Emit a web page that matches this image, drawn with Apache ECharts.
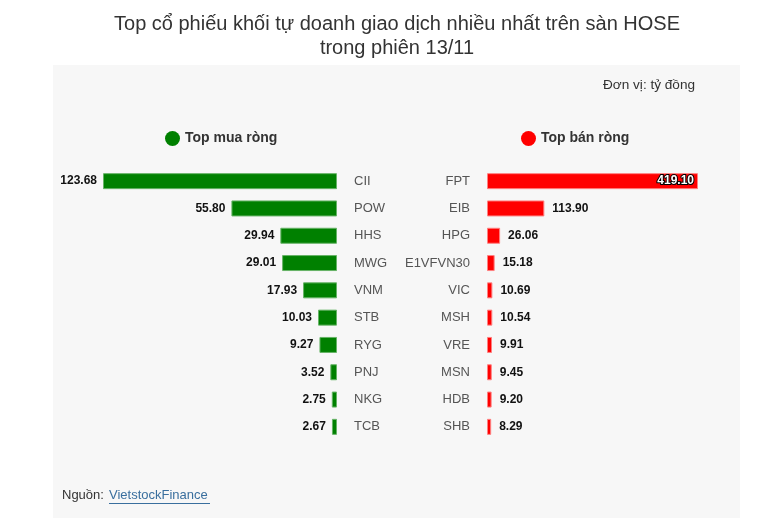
<!DOCTYPE html>
<html><head><meta charset="utf-8">
<script src="https://cdn.jsdelivr.net/npm/echarts@6/dist/echarts.min.js"></script>
<style>html,body{margin:0;padding:0;background:#fff}#c{width:780px;height:518px}</style>
</head><body><div id="c"></div>
<script>
const buyNames = ['CII','POW','HHS','MWG','VNM','STB','RYG','PNJ','NKG','TCB'];
const buyValues = [123.68,55.80,29.94,29.01,17.93,10.03,9.27,3.52,2.75,2.67];
const sellNames = ['FPT','EIB','HPG','E1VFVN30','VIC','MSH','VRE','MSN','HDB','SHB'];
const sellValues = [419.10,113.90,26.06,15.18,10.69,10.54,9.91,9.45,9.20,8.29];
const titleText = 'Top cổ phiếu khối tự doanh giao dịch nhiều nhất trên sàn HOSE\ntrong phiên 13/11';

const FONT = 'Liberation Sans, Arial, sans-serif';
const chart = echarts.init(document.getElementById('c'));
const valLabel = {show:true, fontFamily:FONT, fontSize:12, fontWeight:'bold', color:'#111', formatter:p=>p.value.toFixed(2)};
const legendText = {fontFamily:FONT, fontSize:14, fontWeight:'bold', color:'#333'};
chart.setOption({
  animation:false,
  textStyle:{fontFamily:FONT},
  graphic:[
    {type:'rect', z:-10, shape:{x:53,y:65,width:687,height:453}, style:{fill:'#f7f7f7'}},
    {type:'text', x:397, y:12, style:{text:titleText, font:'20px '+FONT, fill:'#333', align:'center', lineHeight:24}},
    {type:'text', left:603, top:78, style:{text:'Đơn vị: tỷ đồng', font:'13.6px '+FONT, fill:'#333'}},
    {type:'text', left:62, top:489, style:{text:'Nguồn: ', font:'13px '+FONT, fill:'#333'}},
    {type:'text', left:109, top:489, style:{text:'VietstockFinance', font:'13px '+FONT, fill:'#3a6f9e'}},
    {type:'line', shape:{x1:109,y1:503.5,x2:210,y2:503.5}, style:{stroke:'#3a6f9e', lineWidth:1}}
  ],
  legend:[
    {data:['Top mua ròng'], left:160, top:126, icon:'circle', itemWidth:15, itemHeight:15, itemGap:8, itemStyle:{borderWidth:0}, textStyle:legendText},
    {data:['Top bán ròng'], left:516, top:126, icon:'circle', itemWidth:15, itemHeight:15, itemGap:9, itemStyle:{borderWidth:0}, textStyle:legendText}
  ],
  grid:[
    {left:103, width:234, top:167.5, height:273},
    {left:487, width:211, top:167.5, height:273}
  ],
  xAxis:[
    {gridIndex:0, type:'value', inverse:true, min:0, max:'dataMax', show:false},
    {gridIndex:1, type:'value', min:0, max:'dataMax', show:false}
  ],
  yAxis:[
    {gridIndex:0, type:'category', data:buyNames, inverse:true, position:'right', axisLine:{show:false}, axisTick:{show:false},
      axisLabel:{margin:17, align:'left', fontFamily:FONT, fontSize:13, color:'#555'}},
    {gridIndex:1, type:'category', data:sellNames, inverse:true, position:'left', axisLine:{show:false}, axisTick:{show:false},
      axisLabel:{margin:17, align:'right', fontFamily:FONT, fontSize:13, color:'#555'}}
  ],
  series:[
    {name:'Top mua ròng', type:'bar', xAxisIndex:0, yAxisIndex:0, data:buyValues, barWidth:16,
      itemStyle:{color:'#008000', borderColor:'#66b366', borderWidth:1},
      label:Object.assign({}, valLabel, {position:'left', distance:6})},
    {name:'Top bán ròng', type:'bar', xAxisIndex:1, yAxisIndex:1, barWidth:16,
      data:sellValues.map((v,i)=> i===0 ? {value:v, label:{position:'insideRight', distance:4, color:'#fff', textBorderColor:'#000', textBorderWidth:2}} : v),
      itemStyle:{color:'#ff0000', borderColor:'#ff8080', borderWidth:1},
      label:Object.assign({}, valLabel, {position:'right', distance:8})}
  ]
});
</script></body></html>
